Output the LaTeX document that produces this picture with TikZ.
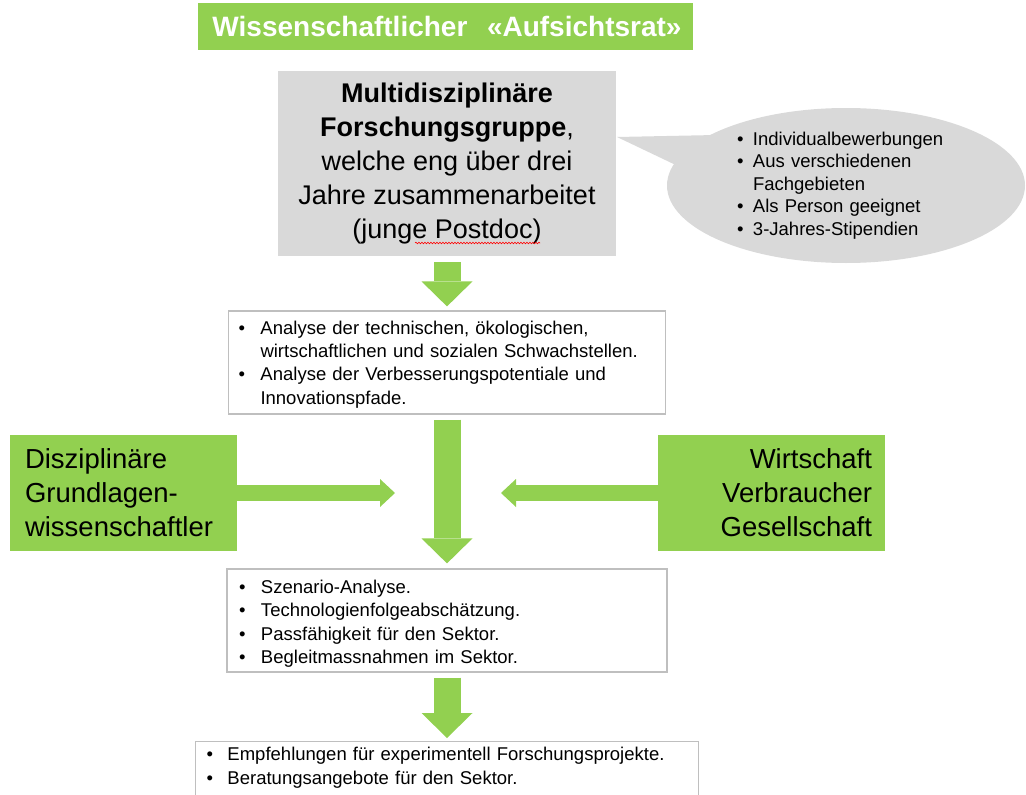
\documentclass[tikz,border=0pt]{standalone}
\usepackage{fontspec}
\setmainfont{Liberation Sans}
\usetikzlibrary{arrows.meta,shapes.geometric,decorations.pathmorphing}
\definecolor{lgreen}{HTML}{92D050}
\definecolor{lgrey}{HTML}{D9D9D9}
\definecolor{bgrey}{HTML}{BFBFBF}
\newcommand{\bl}[1]{\makebox[#1][l]{•}}
\begin{document}
\begin{tikzpicture}[x=1pt,y=-1pt,
  greenbox/.style={fill=lgreen, draw=none, inner ysep=0pt},
  listbox/.style={draw=bgrey, line width=1.2pt, fill=white, inner ysep=0pt, align=left},
  fatdown/.style={draw=lgreen, line width=27pt, -{Triangle[width=51pt,length=25pt,line width=0pt]}},
  fatside/.style={draw=lgreen, line width=16pt, -{Triangle[width=28pt,length=15pt,line width=0pt]}}
]
\useasboundingbox (0,0) rectangle (1026,795);

% title
\node[greenbox, minimum width=495pt, minimum height=47pt, text=white,
      font=\fontsize{28}{31}\selectfont\bfseries] (title) at (445.5,26.5)
  {\hspace{3pt}Wissenschaftlicher\hspace{0.7em}«Aufsichtsrat»};

% research group
\node[fill=lgrey, minimum width=338pt, minimum height=185pt, inner sep=0pt, align=center,
      font=\fontsize{27}{33.8}\selectfont] (group) at (447,163.5)
  {\textbf{Multidisziplinäre}\\\textbf{Forschungsgruppe},\\welche eng über drei\\Jahre zusammenarbeitet\\(junge Postdoc)};
\draw[red, line width=0.6pt, decorate, decoration={snake, amplitude=0.8pt, segment length=3pt}]
  (415,243) -- (540,243);

% speech bubble
\coordinate (tailtip) at (617,137);
\node[ellipse, fill=lgrey, minimum width=358pt, minimum height=155pt, inner sep=0pt,
      text width=218pt, align=left, font=\fontsize{18.5}{22.6}\selectfont] (bubble) at (846,185.5)
  {\bl{16pt}Individualbewerbungen\\\bl{16pt}Aus verschiedenen\\\hspace*{16pt}Fachgebieten\\\bl{16pt}Als Person geeignet\\\bl{16pt}3-Jahres-Stipendien};
\fill[lgrey] (tailtip) -- (716,135) -- (682,168) -- cycle;

% analysis box
\node[listbox, minimum width=437pt, minimum height=103pt, inner xsep=10pt, text width=417pt,
      font=\fontsize{18.5}{23.3}\selectfont] (analysis) at (447,362.5)
  {\rule{0pt}{17pt}\bl{22pt}Analyse der technischen, ökologischen,\\\hspace*{22pt}wirtschaftlichen und sozialen Schwachstellen.\\\bl{22pt}Analyse der Verbesserungspotentiale und\\\hspace*{22pt}Innovationspfade.};

% side boxes
\node[greenbox, minimum width=227pt, minimum height=116pt, inner xsep=15pt, text width=197pt,
      align=left, font=\fontsize{27.5}{34}\selectfont] (basic) at (123.5,493)
  {Disziplinäre\\Grundlagen-\\wissenschaftler};
\node[greenbox, minimum width=227pt, minimum height=116pt, inner xsep=13pt, text width=201pt,
      align=right, font=\fontsize{27.5}{34}\selectfont] (society) at (771.5,493)
  {Wirtschaft\\Verbraucher\\Gesellschaft};

% synthesis box
\node[listbox, minimum width=440pt, minimum height=103pt, inner xsep=12pt, text width=416pt,
      font=\fontsize{18.5}{23.6}\selectfont] (synthesis) at (447,620.5)
  {\rule{0pt}{20pt}\bl{22pt}Szenario-Analyse.\\\bl{22pt}Technologienfolgeabschätzung.\\\bl{22pt}Passfähigkeit für den Sektor.\\\bl{22pt}Begleitmassnahmen im Sektor.};

% recommendations box
\node[listbox, anchor=north, inner xsep=11pt, inner ysep=5.7pt, text width=481pt,
      font=\fontsize{18.5}{23.3}\selectfont] (rec) at (447,741)
  {\bl{21pt}Empfehlungen für experimentell Forschungsprojekte.\\\bl{21pt}Beratungsangebote für den Sektor.\\\mbox{}};

% arrows
\coordinate (hub) at (448,493);
\draw[fatdown, shorten <=6pt, shorten >=4pt] (group.south) -- (analysis.north);
\draw[fatdown, shorten <=5pt, shorten >=5pt] (analysis.south) -- (synthesis.north);
\draw[fatdown, shorten <=5pt, shorten >=3pt] (synthesis.south) -- (rec.north);
\draw[fatside, shorten >=53pt] (basic.east) -- (hub);
\draw[fatside, shorten >=53pt] (society.west) -- (hub);
\end{tikzpicture}
\end{document}
